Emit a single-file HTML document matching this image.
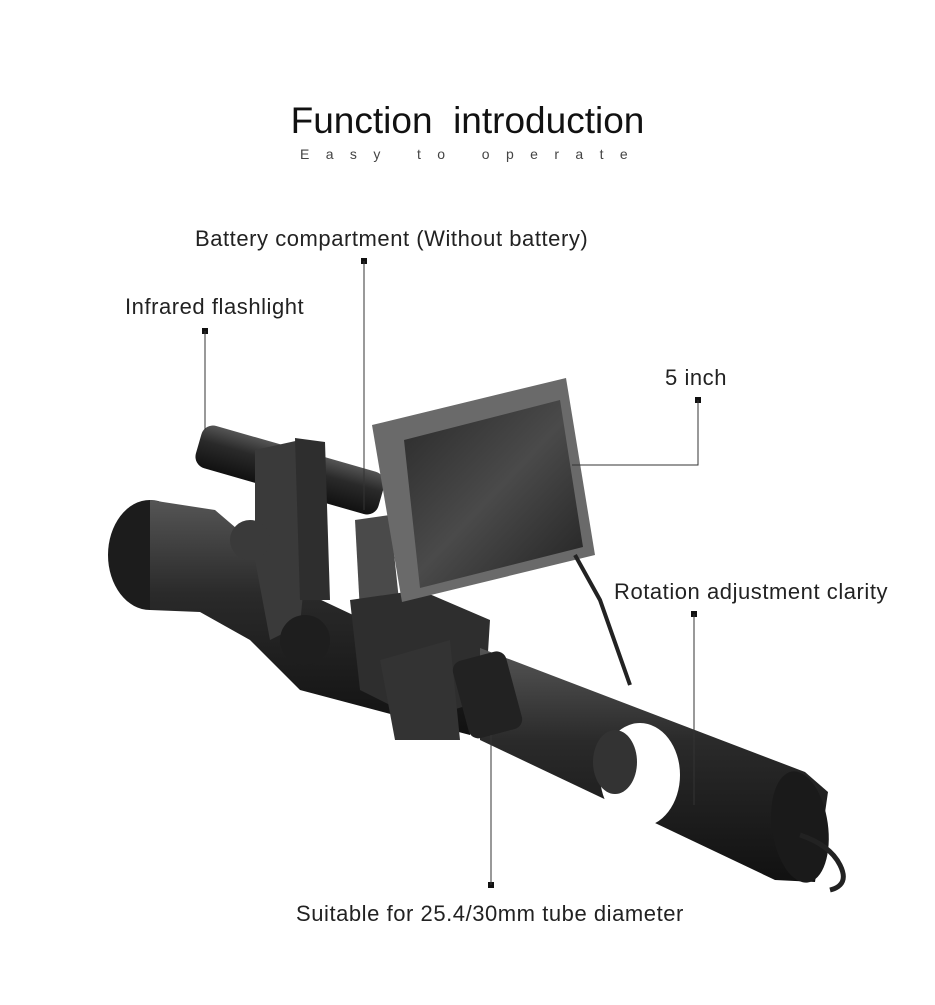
<!DOCTYPE html>
<html><head><meta charset="utf-8"><style>
body{margin:0;background:#fff;width:935px;height:1005px;overflow:hidden;font-family:"Liberation Sans",sans-serif;}
.t{position:absolute;white-space:nowrap;color:#222;}
.l{font-size:22px;letter-spacing:0.55px;}
</style></head><body>
<div class="t" style="left:0;width:935px;text-align:center;top:100px;font-size:37px;color:#111;">Function&nbsp; introduction</div>
<div class="t" style="left:300px;top:146px;font-size:14px;letter-spacing:16.4px;color:#444;">Easy to operate</div>
<div class="t l" style="left:195px;top:226px;">Battery compartment (Without battery)</div>
<div class="t l" style="left:125px;top:294px;">Infrared flashlight</div>
<div class="t l" style="left:665px;top:365px;">5 inch</div>
<div class="t l" style="left:614px;top:579px;">Rotation adjustment clarity</div>
<div class="t l" style="left:296px;top:901px;">Suitable for 25.4/30mm tube diameter</div>
<svg width="935" height="1005" style="position:absolute;left:0;top:0">
<defs>
<linearGradient id="g1" x1="0" y1="0" x2="0" y2="1"><stop offset="0" stop-color="#555"/><stop offset=".4" stop-color="#2a2a2a"/><stop offset="1" stop-color="#111"/></linearGradient>
<linearGradient id="scr" x1="0" y1="0" x2="1" y2="1"><stop offset="0" stop-color="#2a2a2a"/><stop offset=".5" stop-color="#4a4a4a"/><stop offset="1" stop-color="#222"/></linearGradient>
</defs>
<ellipse cx="150" cy="555" rx="42" ry="55" fill="#1c1c1c"/>
<polygon points="150,500 215,510 250,540 300,590 470,670 470,735 300,690 250,640 200,612 150,610" fill="url(#g1)"/>
<g transform="rotate(16 290 470)">
<rect x="195" y="448" width="190" height="44" rx="12" fill="url(#g1)"/>
</g>
<polygon points="255,450 300,440 310,520 300,625 270,640 255,560" fill="#3a3a3a"/>
<polygon points="295,438 325,442 330,600 300,600" fill="#2e2e2e"/>
<circle cx="250" cy="540" r="20" fill="#3a3a3a"/>
<polygon points="355,520 390,515 400,610 360,612" fill="#4a4a4a"/>
<polygon points="350,600 420,590 490,620 485,700 420,720 360,690" fill="#2e2e2e"/>
<polygon points="380,660 450,640 460,740 395,740" fill="#333"/>
<circle cx="305" cy="640" r="25" fill="#1e1e1e"/>
<polygon points="480,648 805,772 828,792 815,882 775,880 480,740" fill="url(#g1)"/>
<ellipse cx="800" cy="827" rx="28" ry="56" transform="rotate(-8 800 827)" fill="#1a1a1a"/>
<ellipse cx="640" cy="775" rx="40" ry="52" fill="#fff"/>
<ellipse cx="615" cy="762" rx="22" ry="32" fill="#333"/>
<rect x="460" y="655" width="55" height="80" rx="10" fill="#222" transform="rotate(-15 487 695)"/>
<polygon points="372,425 566,378 595,555 402,602" fill="#6a6a6a"/>
<polygon points="404,440 560,400 583,547 420,588" fill="url(#scr)"/>
<path d="M575,555 L600,600 L630,685" stroke="#222" stroke-width="4" fill="none"/>
<path d="M800,835 q30,10 40,30 q10,20 -10,25" stroke="#222" stroke-width="5" fill="none"/>
<g fill="#111">
<rect x="361" y="258" width="6" height="6"/><rect x="202" y="328" width="6" height="6"/>
<rect x="695" y="397" width="6" height="6"/><rect x="691" y="611" width="6" height="6"/>
<rect x="488" y="882" width="6" height="6"/>
</g>
<g stroke="#333" stroke-width="1" fill="none">
<line x1="364" y1="261" x2="364" y2="510"/>
<line x1="205" y1="331" x2="205" y2="430"/>
<polyline points="698,400 698,465 572,465"/>
<line x1="694" y1="614" x2="694" y2="805"/>
<line x1="491" y1="885" x2="491" y2="735"/>
</g>
</svg>
</body></html>
